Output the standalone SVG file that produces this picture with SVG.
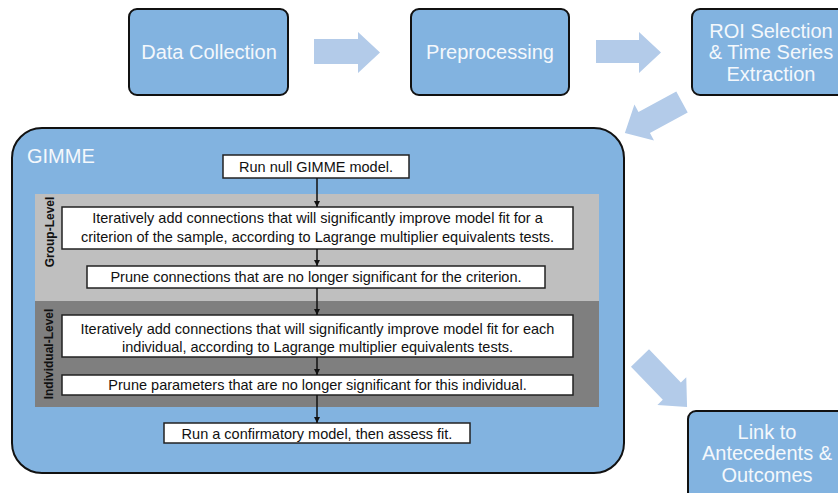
<svg xmlns="http://www.w3.org/2000/svg" width="838" height="493" viewBox="0 0 838 493">
  <style>
    .stage { fill: #82B3E0; stroke: #111; stroke-width: 2; }
    .stage-text { font-family: "Liberation Sans", Arial, sans-serif; font-size: 20px; fill: #F4F8FC; text-anchor: middle; }
    .flow { fill: #B3CBE9; }
    .step { fill: #FFFFFF; stroke: #222; stroke-width: 1.5; }
    .step-text { font-family: "Liberation Sans", Arial, sans-serif; font-size: 14.5px; fill: #111; text-anchor: middle; }
    .level-text { font-family: "Liberation Sans", Arial, sans-serif; font-size: 12px; font-weight: bold; fill: #111; text-anchor: middle; }
    .link { stroke: #111; stroke-width: 1.5; fill: none; marker-end: url(#head); }
  </style>
  <defs>
    <marker id="head" viewBox="0 0 8 8" refX="8" refY="4" markerWidth="4" markerHeight="4" orient="auto" markerUnits="strokeWidth">
      <path d="M0,0 L8,4 L0,8 Z" fill="#111"/>
    </marker>
  </defs>

  <rect width="838" height="493" fill="#FFFFFF"/>

  <!-- pipeline stages -->
  <g id="data-collection">
    <rect class="stage" x="129" y="9" width="159" height="86" rx="8"/>
    <text class="stage-text" x="209" y="59">Data Collection</text>
  </g>
  <g id="preprocessing">
    <rect class="stage" x="411" y="9" width="158" height="86" rx="8"/>
    <text class="stage-text" x="490" y="59">Preprocessing</text>
  </g>
  <g id="roi-extraction">
    <rect class="stage" x="692" y="9" width="160" height="86" rx="8"/>
    <text class="stage-text" x="771" y="37.5">ROI Selection</text>
    <text class="stage-text" x="771" y="59">&amp; Time Series</text>
    <text class="stage-text" x="771" y="80.5">Extraction</text>
  </g>
  <g id="link-outcomes">
    <rect class="stage" x="688" y="411" width="160" height="100" rx="8"/>
    <text class="stage-text" x="767" y="438.5">Link to</text>
    <text class="stage-text" x="767" y="460">Antecedents &amp;</text>
    <text class="stage-text" x="767" y="481.5">Outcomes</text>
  </g>

  <!-- GIMME container with its two level bands -->
  <g id="gimme">
    <rect class="stage" x="12" y="128" width="612" height="345" rx="30"/>
    <text class="stage-text" x="27" y="163" style="text-anchor:start">GIMME</text>
    <rect x="35" y="194" width="564" height="107" fill="#BFBFBF"/>
    <rect x="35" y="301" width="564" height="106" fill="#7F7F7F"/>
    <text class="level-text" transform="translate(53.5,232) rotate(-90)">Group-Level</text>
    <text class="level-text" transform="translate(52.5,354) rotate(-90)">Individual-Level</text>
  </g>

  <g id="null-model">
    <rect class="step" x="223" y="155" width="186" height="23"/>
    <text class="step-text" x="316" y="171.5">Run null GIMME model.</text>
  </g>
  <g id="group-add">
    <rect class="step" x="62" y="207" width="511" height="42"/>
    <text class="step-text" x="317.5" y="222.5">Iteratively add connections that will significantly improve model fit for a</text>
    <text class="step-text" x="317.5" y="241.5">criterion of the sample, according to Lagrange multiplier equivalents tests.</text>
  </g>
  <g id="group-prune">
    <rect class="step" x="87" y="266" width="458" height="22"/>
    <text class="step-text" x="316" y="282">Prune connections that are no longer significant for the criterion.</text>
  </g>
  <g id="individual-add">
    <rect class="step" x="62" y="315" width="511" height="42"/>
    <text class="step-text" x="317.5" y="333.5">Iteratively add connections that will significantly improve model fit for each</text>
    <text class="step-text" x="317.5" y="352">individual, according to Lagrange multiplier equivalents tests.</text>
  </g>
  <g id="individual-prune">
    <rect class="step" x="62" y="375" width="511" height="20"/>
    <text class="step-text" x="317.5" y="390">Prune parameters that are no longer significant for this individual.</text>
  </g>
  <g id="confirmatory">
    <rect class="step" x="164" y="423" width="306" height="20"/>
    <text class="step-text" x="317" y="438.5">Run a confirmatory model, then assess fit.</text>
  </g>

  <!-- connectors: block arrows between stages, step arrows inside GIMME -->
  <g id="connectors">
    <path class="flow" d="M314,39 H358 V32 L380,52.5 L358,73 V64 H314 Z"/>
    <path class="flow" d="M596,40 H639 V32 L661,52.5 L639,73 V63 H596 Z"/>
    <polygon class="flow" points="0,-12 43,-12 43,-20.5 65,0 43,20.5 43,12 0,12" transform="translate(682,102) rotate(151.5)"/>
    <polygon class="flow" points="0,-12.5 46,-12.5 46,-20 68,0 46,20 46,12.5 0,12.5" transform="translate(640,358) rotate(46.2)"/>
    <line class="link" x1="317" y1="178" x2="317" y2="207"/>
    <line class="link" x1="317" y1="249" x2="317" y2="266"/>
    <line class="link" x1="317" y1="288" x2="317" y2="315"/>
    <line class="link" x1="317" y1="357" x2="317" y2="375"/>
    <line class="link" x1="317" y1="395" x2="317" y2="423"/>
  </g>
</svg>
